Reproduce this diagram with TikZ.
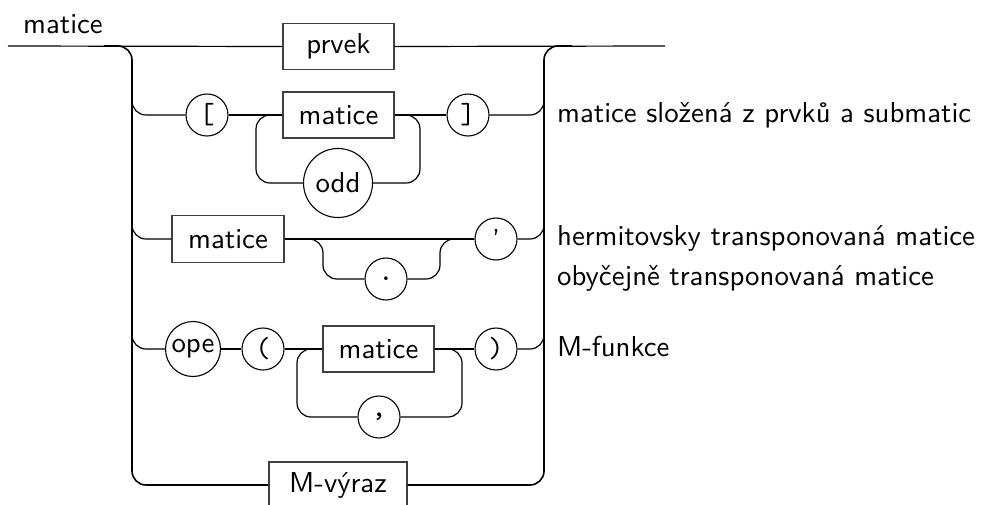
\documentclass[tikz,border=0pt]{standalone}
\newcommand\sstxt[1]{\scalebox{2.88}{\sffamily #1}}
\newcommand\tttxt[1]{\scalebox{2.9}{\ttfamily #1}}
\begin{document}
\begin{tikzpicture}[x=1pt,y=-1pt,
  box/.style={draw=black!75,line width=1.1pt,rectangle,minimum width=111pt,minimum height=46pt,inner sep=0pt},
  term/.style={draw,line width=1.1pt,circle,minimum size=42pt,inner sep=0pt},
  conn/.style={line width=1.2pt,rounded corners=14pt},
  rail/.style={line width=1.6pt,rounded corners=14pt},
  note/.style={anchor=base west,inner sep=0pt}]
\useasboundingbox (0,0) rectangle (982,504);
% label
\node[note] (lbl) at (23,33) {\sstxt{matice}};
% row 1
\node[box] (prvek) at (338.5,46.5) {\sstxt{prvek}};
\coordinate (in) at (8,46);
\coordinate (out) at (665,46);
\draw[conn] (in) -- (prvek.west);
\draw[conn] (prvek.east) -- (out);
% row 2
\node[term] (lb) at (207,115) {\tttxt{[}};
\node[box] (m2) at (338.5,115) {\sstxt{matice}};
\node[term] (rb) at (468,115) {\tttxt{]}};
\node[term,minimum size=69pt] (odd) at (338,183) {\sstxt{odd}};
\draw[conn] (lb.east) -- (m2.west);
\draw[conn] (m2.east) -- (rb.west);
\draw[conn] (odd.west) -| (256,115) -- (m2.west);
\draw[conn] (m2.east) -| (420,183) -- (odd.east);
% row 3
\node[box,minimum width=112pt,minimum height=47pt] (m3) at (228,239) {\sstxt{matice}};
\node[term] (dot) at (386,279) {\tttxt{.}};
\node[term] (q) at (496,239) {\sstxt{’}};
\draw[conn] (m3.east) -- (q.west);
\draw[conn] (m3.east) -| (323,279) -- (dot.west);
\draw[conn] (dot.east) -| (440,239) -- (q.west);
% row 4
\node[term,minimum size=55pt] (ope) at (193,349) {\sstxt{ope}};
\node[term] (lp) at (263,349) {\tttxt{(}};
\node[box] (m4) at (378.5,349) {\sstxt{matice}};
\node[term] (rp) at (496,349) {\tttxt{)}};
\node[term] (comma) at (379,417) {\tttxt{,}};
\draw[conn] (ope.east) -- (lp.west);
\draw[conn] (lp.east) -- (m4.west);
\draw[conn] (m4.east) -- (rp.west);
\draw[conn] (comma.west) -| (297,349) -- (m4.west);
\draw[conn] (m4.east) -| (462,417) -- (comma.east);
% row 5
\node[box,minimum width=138pt] (mv) at (338,485) {\sstxt{M-výraz}};
% rails
\draw[rail] (104,46) -| (132,485) -- (mv.west);
\draw[rail] (mv.east) -| (544,46) -- (572,46);
\draw[conn] (132,90) |- (lb.west);
\draw[conn] (132,220) |- (m3.west);
\draw[conn] (132,330) |- (ope.west);
\draw[conn] (rb.east) -| (544,90);
\draw[conn] (q.east) -| (544,220);
\draw[conn] (rp.east) -| (544,330);
% notes
\node[note] (n1) at (557,122) {\sstxt{matice složená z prvků a submatic}};
\node[note] (n2) at (557,245) {\sstxt{hermitovsky transponovaná matice}};
\node[note] (n3) at (557,285) {\sstxt{obyčejně transponovaná matice}};
\node[note] (n4) at (557,356) {\sstxt{M-funkce}};
\end{tikzpicture}
\end{document}
